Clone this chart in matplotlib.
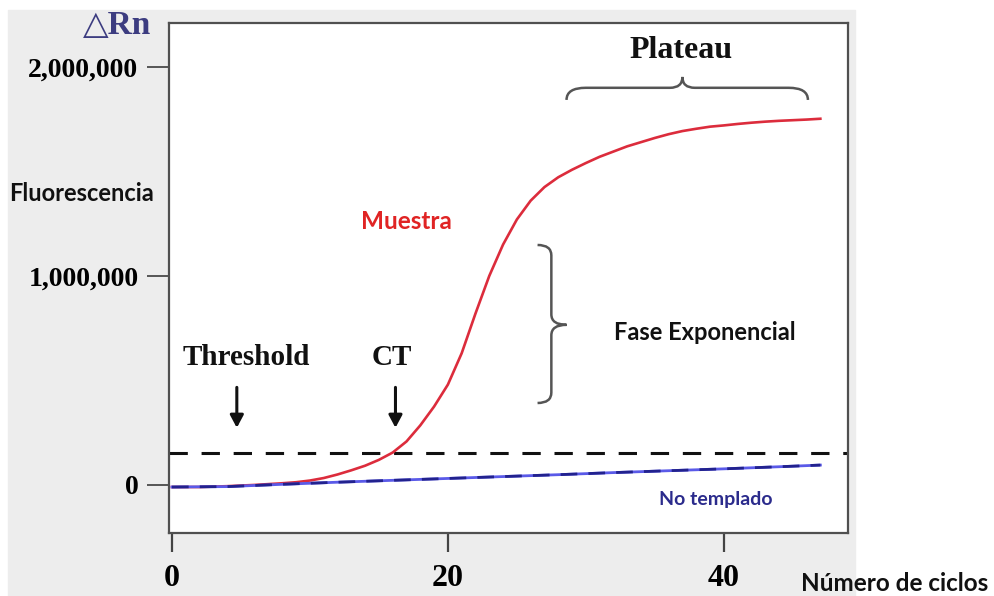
import matplotlib
matplotlib.use("Agg")
import matplotlib.pyplot as plt
from matplotlib.patches import Rectangle, PathPatch
from matplotlib.path import Path

# curva de amplificacion (en millones)
ciclos = list(range(48))
muestra = [-0.010, -0.010, -0.010, -0.008, -0.006, -0.003, 0.000, 0.004,
           0.008, 0.013, 0.021, 0.033, 0.050, 0.070, 0.092, 0.120,
           0.155, 0.208, 0.285, 0.375, 0.480, 0.630, 0.820, 1.000,
           1.150, 1.270, 1.360, 1.425, 1.472, 1.508, 1.540, 1.570,
           1.595, 1.620, 1.640, 1.660, 1.678, 1.693, 1.704, 1.714,
           1.720, 1.727, 1.733, 1.738, 1.742, 1.745, 1.748, 1.752]
ciclos_nt = [0, 4, 8, 12, 16, 20, 24, 28, 32, 36, 40, 44, 47]
no_templado = [-0.010, -0.008, 0.003, 0.013, 0.022, 0.031, 0.040,
               0.049, 0.059, 0.068, 0.077, 0.087, 0.095]
umbral = 0.153

xticks = [0, 20, 40]
yticks = [0, 1.0, 2.0]
ylabels = ["0", "1,000,000", "2,000,000"]

serif = "Liberation Serif"
sans = "Lato"

fig = plt.figure(figsize=(9.95, 5.96), dpi=100)
fig.patches.append(Rectangle((8 / 995, 0), 847 / 995, 586 / 596,
                             transform=fig.transFigure, color="#ededed",
                             zorder=-5))
ax = fig.add_axes([0.1698, 0.1057, 0.6824, 0.8557])
ax.set_facecolor("white")

ax.plot(ciclos, muestra, color="#dc2c3c", lw=1.9, zorder=3)
ax.plot(ciclos_nt, no_templado, color="#5a5ae8", lw=2.0, zorder=4)
ax.plot(ciclos_nt, no_templado, color="#22228e", lw=2.0, dashes=(6, 4),
        zorder=5)
ax.axhline(umbral, color="#111111", lw=2.2, dashes=(6, 4.5), zorder=2,
           clip_on=False)

ax.set_xlim(-0.22, 49.0)
ax.set_ylim(-0.23, 2.21)
ax.set_xticks(xticks)
ax.set_xticklabels([str(t) for t in xticks])
ax.set_yticks(yticks)
ax.set_yticklabels(ylabels)
ax.tick_params(axis="x", direction="out", length=14, width=1.6,
               color="#444444", pad=8)
ax.tick_params(axis="y", direction="out", length=16, width=1.4,
               color="#555555", pad=6)
for lab in ax.get_xticklabels():
    lab.set_fontfamily(serif)
    lab.set_fontweight("bold")
    lab.set_fontsize(23)
for lab in ax.get_yticklabels():
    lab.set_fontfamily(serif)
    lab.set_fontweight("bold")
    lab.set_fontsize(20)
for s in ax.spines.values():
    s.set_color("#505050")
    s.set_linewidth(1.6)

# flechas
for x in [4.7, 16.2]:
    ax.annotate("", xy=(x, 0.26), xytext=(x, 0.48),
                arrowprops=dict(arrowstyle="-|>,head_length=0.75,head_width=0.4",
                                color="#111111", lw=2.2))
ax.text(5.36, 0.612, "Threshold", family=serif, weight="bold", fontsize=21,
        ha="center", va="center", color="#111111")
ax.text(15.9, 0.612, "CT", family=serif, weight="bold", fontsize=21,
        ha="center", va="center", color="#111111")
ax.text(36.9, 2.08, "Plateau", family=serif, weight="bold", fontsize=23,
        ha="center", va="center", color="#111111")

# llaves
x0, x1, xm = 28.6, 46.1, 37.0
yb, yl, yt = 1.842, 1.90, 1.952
verts = [(x0, yb), (x0, yl), (x0 + 1.4, yl), (xm - 0.9, yl),
         (xm, yl), (xm, yt), (xm, yl), (xm + 0.9, yl),
         (x1 - 1.4, yl), (x1, yl), (x1, yb)]
codes = [Path.MOVETO, Path.CURVE3, Path.CURVE3, Path.LINETO,
         Path.CURVE3, Path.CURVE3, Path.CURVE3, Path.CURVE3,
         Path.LINETO, Path.CURVE3, Path.CURVE3]
ax.add_patch(PathPatch(Path(verts, codes), fill=False, ec="#555555", lw=1.8))

xe, xl, xt = 26.5, 27.5, 28.6
ytop, ytip, ybot = 1.148, 0.766, 0.392
verts = [(xe, ytop), (xl, ytop), (xl, ytop - 0.05), (xl, ytip + 0.05),
         (xl, ytip), (xt, ytip), (xl, ytip), (xl, ytip - 0.05),
         (xl, ybot + 0.05), (xl, ybot), (xe, ybot)]
ax.add_patch(PathPatch(Path(verts, codes), fill=False, ec="#555555", lw=1.8))

ax.text(17.0, 1.258, "Muestra", family=sans, weight="bold", fontsize=17.5,
        ha="center", va="center", color="#e02424")
ax.text(38.6, 0.727, "Fase Exponencial", family=sans, weight="bold",
        fontsize=17, ha="center", va="center", color="#111111")
ax.text(39.4, -0.072, "No templado", family=sans, weight="bold", fontsize=14,
        ha="center", va="center", color="#2b2b8c")

fig.text(0.1176, 0.958, "\u25b3Rn", family=[serif, "DejaVu Sans"],
         weight="bold", fontsize=24, ha="center", va="center",
         color="#3c3c80")
fig.text(0.0824, 0.676, "Fluorescencia", family=sans, weight="bold",
         fontsize=17, ha="center", va="center", color="#111111")
fig.text(0.8995, 0.0218, "Número de ciclos", family=sans, weight="bold",
         fontsize=17.5, ha="center", va="center", color="#111111")

fig.savefig("out.png", dpi=100)
